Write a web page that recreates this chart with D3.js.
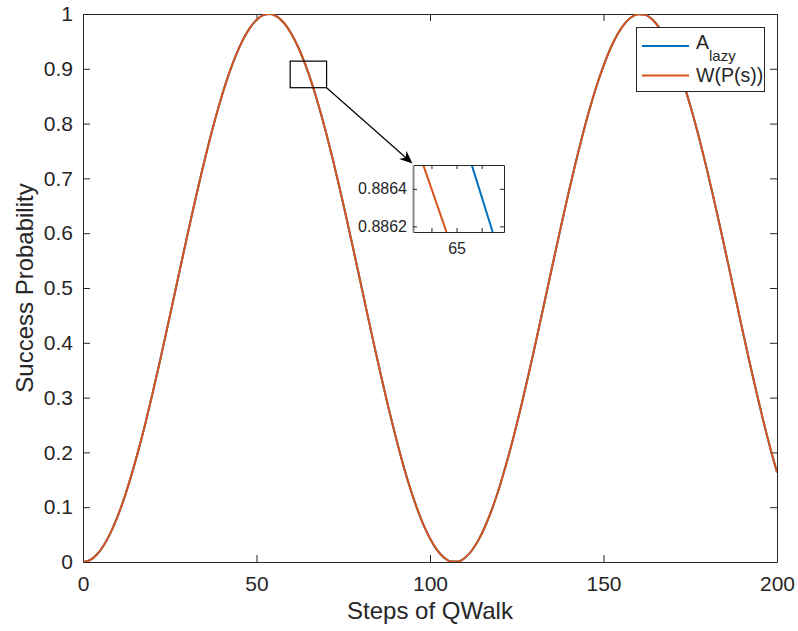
<!DOCTYPE html>
<html>
<head>
<meta charset="utf-8">
<script src="https://cdnjs.cloudflare.com/ajax/libs/d3/7.8.5/d3.min.js"></script>
<style>
body { margin: 0; background: #fff; }
svg text { font-family: "Liberation Sans", Arial, Helvetica, sans-serif; fill: #262626; }
</style>
</head>
<body>
<svg id="chart" width="798" height="631"></svg>
<script>
// steps of the walk (every 2nd step)
var steps = [0,2,4,6,8,10,12,14,16,18,20,22,24,26,28,30,32,34,36,38,40,42,44,46,48,50,
	52,54,56,58,60,62,64,66,68,70,72,74,76,78,80,82,84,86,88,90,92,94,96,98,100,
	102,104,106,108,110,112,114,116,118,120,122,124,126,128,130,132,134,136,138,140,
	142,144,146,148,150,152,154,156,158,160,162,164,166,168,170,172,174,176,178,180,
	182,184,186,188,190,192,194,196,198,200];

var aLazy = [0,0.0034,0.0137,0.0307,0.0541,0.0836,0.1189,0.1594,0.2046,0.2538,
	0.3065,0.3618,0.4190,0.4773,0.5359,0.5940,0.6509,0.7057,0.7576,0.8060,
	0.8503,0.8898,0.9236,0.9518,0.9737,0.9892,0.9979,0.9998,0.9949,0.9831,
	0.9646,0.9398,0.9089,0.8724,0.8308,0.7846,0.7346,0.6813,0.6255,0.5680,
	0.5095,0.4509,0.3930,0.3366,0.2824,0.2312,0.1836,0.1404,0.1025,0.0696,
	0.0428,0.0222,0.0083,0.0010,0.0007,0.0072,0.0205,0.0404,0.0666,0.0987,
	0.1364,0.1792,0.2263,0.2771,0.3311,0.3873,0.4451,0.5037,0.5622,0.6198,
	0.6758,0.7294,0.7798,0.8265,0.8686,0.9055,0.9370,0.9624,0.9815,0.9940,
	0.9996,0.9984,0.9904,0.9756,0.9542,0.9266,0.8933,0.8543,0.8105,0.7626,
	0.7110,0.6565,0.5998,0.5417,0.4831,0.4248,0.3674,0.3119,0.2589,0.2093,
	0.1637];

var wPs = [0,0.0034,0.0137,0.0307,0.0541,0.0836,0.1189,0.1594,0.2046,0.2538,
	0.3065,0.3618,0.4190,0.4773,0.5359,0.5940,0.6509,0.7057,0.7576,0.8060,
	0.8503,0.8898,0.9236,0.9518,0.9737,0.9892,0.9979,0.9998,0.9949,0.9831,
	0.9646,0.9398,0.9089,0.8724,0.8308,0.7846,0.7346,0.6813,0.6255,0.5680,
	0.5095,0.4509,0.3930,0.3366,0.2824,0.2312,0.1836,0.1404,0.1025,0.0696,
	0.0428,0.0222,0.0083,0.0010,0.0007,0.0072,0.0205,0.0404,0.0666,0.0987,
	0.1364,0.1792,0.2263,0.2771,0.3311,0.3873,0.4451,0.5037,0.5622,0.6198,
	0.6758,0.7294,0.7798,0.8265,0.8686,0.9055,0.9370,0.9624,0.9815,0.9940,
	0.9996,0.9984,0.9904,0.9756,0.9542,0.9266,0.8933,0.8543,0.8105,0.7626,
	0.7110,0.6565,0.5998,0.5417,0.4831,0.4248,0.3674,0.3119,0.2589,0.2093,
	0.1637];

var xTicks = [0,50,100,150,200];
var yTicks = [0,0.1,0.2,0.3,0.4,0.5,0.6,0.7,0.8,0.9,1];

// zoomed inset near step 65
var insetStepsA = [65.0120,65.0288];
var insetValsA = [0.88653,0.88617];
var insetStepsW = [64.9733,64.9920];
var insetValsW = [0.88653,0.88617];
var insetXTicks = [64.98,65,65.02];
var insetYTicks = [0.8862,0.8864];
var zoomBoxX = [59.7,70.2];
var zoomBoxY = [0.8655,0.914];

var seriesNames = ["A", "W(P(s))"];
var colours = ["#0072BD", "#D95319"];

var margin = {top: 14, right: 21, bottom: 69, left: 83},
	width = 798 - margin.left - margin.right,
	height = 631 - margin.top - margin.bottom;

var svg = d3.select("#chart");
var g = svg.append("g").attr("transform", "translate(" + margin.left + "," + margin.top + ")");

var x = d3.scaleLinear().domain([0, 200]).range([0, width]);
var y = d3.scaleLinear().domain([0, 1]).range([height, 0]);

g.append("rect").attr("width", width).attr("height", height).attr("fill", "#fff");

// axes, MATLAB style: ticks inside, box on
function styleAxis(sel){
	sel.selectAll("path.domain").attr("stroke", "#262626");
	sel.selectAll(".tick line").attr("stroke", "#262626");
	sel.selectAll("text").style("font-size", "21px").attr("fill", "#262626");
}

g.append("g").attr("transform", "translate(0," + height + ")")
	.call(d3.axisBottom(x).tickValues(xTicks).tickSizeInner(-7).tickSizeOuter(0).tickPadding(14))
	.call(styleAxis);
g.append("g")
	.call(d3.axisTop(x).tickValues(xTicks).tickSizeInner(-7).tickSizeOuter(0).tickFormat(""))
	.call(styleAxis);
g.append("g")
	.call(d3.axisLeft(y).tickValues(yTicks).tickSizeInner(-7).tickSizeOuter(0).tickPadding(10).tickFormat(d3.format("~g")))
	.call(styleAxis);
g.append("g").attr("transform", "translate(" + width + ",0)")
	.call(d3.axisRight(y).tickValues(yTicks).tickSizeInner(-7).tickSizeOuter(0).tickFormat(""))
	.call(styleAxis);

// curves
g.append("clipPath").attr("id", "clipMain")
	.append("rect").attr("width", width).attr("height", height);

var line = d3.line()
	.x(function(d){ return x(d[0]); })
	.y(function(d){ return y(d[1]); })
	.curve(d3.curveMonotoneX);

var series = [aLazy, wPs];
series.forEach(function(vals, i){
	g.append("path")
		.datum(steps.map(function(s, j){ return [s, vals[j]]; }))
		.attr("clip-path", "url(#clipMain)")
		.attr("fill", "none")
		.attr("stroke", colours[i])
		.attr("stroke-width", 2)
		.attr("d", line);
});

// axis labels
svg.append("text")
	.attr("x", margin.left + width / 2)
	.attr("y", 619)
	.attr("text-anchor", "middle")
	.style("font-size", "24px")
	.text("Steps of QWalk");

svg.append("text")
	.attr("transform", "translate(33," + (margin.top + height / 2) + ") rotate(-90)")
	.attr("text-anchor", "middle")
	.style("font-size", "24px")
	.text("Success Probability");

// zoom box in the main axes
var bx0 = x(zoomBoxX[0]), bx1 = x(zoomBoxX[1]), by0 = y(zoomBoxY[1]), by1 = y(zoomBoxY[0]);
g.append("rect")
	.attr("x", bx0).attr("y", by0)
	.attr("width", bx1 - bx0).attr("height", by1 - by0)
	.attr("fill", "none").attr("stroke", "#000").attr("stroke-width", 1.2);

// inset axes
var inset = {left: 413, top: 165, width: 91, height: 67};
var ix = d3.scaleLinear().domain([64.96528, 65.03784]).range([0, inset.width]);
var iy = d3.scaleLinear().domain([0.88617, 0.886527]).range([inset.height, 0]);

// arrow from zoom box to inset
var ax0 = margin.left + bx1, ay0 = margin.top + by1;
var ax1 = inset.left - 0.5, ay1 = inset.top - 1.5;
var ang = Math.atan2(ay1 - ay0, ax1 - ax0);
var hl = 13, hw = 5.5;
function pt(along, side){
	return [ax1 - along * Math.cos(ang) - side * Math.sin(ang), ay1 - along * Math.sin(ang) + side * Math.cos(ang)];
}
svg.append("line")
	.attr("x1", ax0).attr("y1", ay0)
	.attr("x2", pt(8, 0)[0]).attr("y2", pt(8, 0)[1])
	.attr("stroke", "#000").attr("stroke-width", 1.2);
svg.append("path")
	.attr("d", "M" + [ax1, ay1] + "L" + pt(hl, hw) + "L" + pt(hl - 4, 0) + "L" + pt(hl, -hw) + "Z")
	.attr("fill", "#000");

var ig = svg.append("g").attr("transform", "translate(" + inset.left + "," + inset.top + ")");
ig.append("rect").attr("width", inset.width).attr("height", inset.height).attr("fill", "#fff");

ig.append("clipPath").attr("id", "clipInset")
	.append("rect").attr("width", inset.width).attr("height", inset.height);

var iline = d3.line()
	.x(function(d){ return ix(d[0]); })
	.y(function(d){ return iy(d[1]); });

var insetSeries = [[insetStepsA, insetValsA], [insetStepsW, insetValsW]];
insetSeries.forEach(function(s, i){
	ig.append("path")
		.datum(s[0].map(function(v, j){ return [v, s[1][j]]; }))
		.attr("clip-path", "url(#clipInset)")
		.attr("fill", "none")
		.attr("stroke", colours[i])
		.attr("stroke-width", 2)
		.attr("d", iline);
});

function styleInset(sel){
	sel.selectAll("path.domain").attr("stroke", "#262626");
	sel.selectAll(".tick line").attr("stroke", "#262626");
	sel.selectAll("text").style("font-size", "16px").attr("fill", "#262626");
}

ig.append("g").attr("transform", "translate(0," + inset.height + ")")
	.call(d3.axisBottom(ix).tickValues(insetXTicks).tickSizeInner(-4).tickSizeOuter(0).tickPadding(11)
		.tickFormat(function(d){ return d === 65 ? "65" : ""; }))
	.call(styleInset);
ig.append("g")
	.call(d3.axisTop(ix).tickValues(insetXTicks).tickSizeInner(-4).tickSizeOuter(0).tickFormat(""))
	.call(styleInset);
ig.append("g")
	.call(d3.axisLeft(iy).tickValues(insetYTicks).tickSizeInner(-4).tickSizeOuter(0).tickPadding(6).tickFormat(d3.format(".4f")))
	.call(styleInset)
	.select("path.domain").attr("stroke", "#8a8a8a").attr("stroke-width", 2);
ig.append("g").attr("transform", "translate(" + inset.width + ",0)")
	.call(d3.axisRight(iy).tickValues(insetYTicks).tickSizeInner(-4).tickSizeOuter(0).tickFormat(""))
	.call(styleInset);

// legend
var legend = svg.append("g").attr("transform", "translate(636,27)");
legend.append("rect")
	.attr("x", 0.5).attr("y", 0.5)
	.attr("width", 128).attr("height", 64)
	.attr("fill", "#fff").attr("stroke", "#262626");

var rows = legend.selectAll("g.row").data(seriesNames).enter()
	.append("g").attr("class", "row")
	.attr("transform", function(d, i){ return "translate(0," + (19 + i * 29.5) + ")"; });

rows.append("line")
	.attr("x1", 6).attr("x2", 53)
	.attr("stroke", function(d, i){ return colours[i]; })
	.attr("stroke-width", 2);

var lt = rows.append("text")
	.attr("x", 60)
	.attr("y", function(d, i){ return i == 0 ? 3 : 6; })
	.style("font-size", "19.5px");
lt.append("tspan").text(function(d){ return d; });
lt.filter(function(d, i){ return i == 0; })
	.append("tspan")
	.attr("dy", 11.5)
	.style("font-size", "15px")
	.text("lazy");
</script>
</body>
</html>
